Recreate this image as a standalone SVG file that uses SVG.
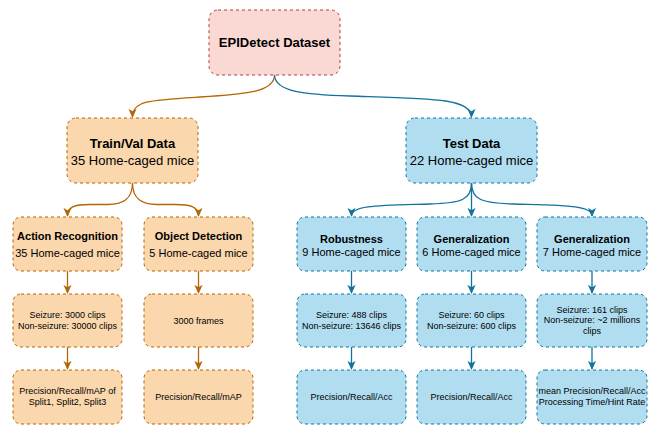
<svg xmlns="http://www.w3.org/2000/svg" width="662" height="427" viewBox="0 0 662 427">
  <style>
    text { font-family: "Liberation Sans", Arial, Helvetica, sans-serif; fill: #000; text-anchor: middle; }
    .box { stroke-width: 1; stroke-dasharray: 3 3; }
    .root { fill: #fad9d5; stroke: #ae4132; }
    .org { fill: #fad7ac; stroke: #b46504; }
    .blu { fill: #b1ddf0; stroke: #10739e; }
    .t13b { font-size: 13px; font-weight: bold; }
    .t13 { font-size: 13px; }
    .t11b { font-size: 11px; font-weight: bold; }
    .t11 { font-size: 11px; }
    .t9 { font-size: 9px; }
    .eo { fill: none; stroke: #b46504; stroke-width: 1.3; marker-end: url(#arrO); }
    .eb { fill: none; stroke: #10739e; stroke-width: 1.3; marker-end: url(#arrB); }
  </style>
  <defs>
    <marker id="arrO" viewBox="0 0 10 10" refX="9" refY="5" markerWidth="9" markerHeight="9" markerUnits="userSpaceOnUse" orient="auto">
      <path d="M0,0.5 L10,5 L0,9.5 L2.5,5 Z" fill="#b46504"/>
    </marker>
    <marker id="arrB" viewBox="0 0 10 10" refX="9" refY="5" markerWidth="9" markerHeight="9" markerUnits="userSpaceOnUse" orient="auto">
      <path d="M0,0.5 L10,5 L0,9.5 L2.5,5 Z" fill="#10739e"/>
    </marker>
  </defs>

  <!-- connectors -->
  <g id="connectors">
    <path class="eo" d="M274.5,75 C274.5,92 245,94.5 200,97 C150,100 132.5,100.5 132.5,117"/>
    <path class="eb" d="M274.5,75 C275,92 305,94.5 350,96 C430,98.5 471.5,98 471.5,117"/>

    <path class="eo" d="M132.5,183 C132.5,200 122,204.5 108,204.5 L90,204.5 C74,204.5 67.5,207 67.5,216"/>
    <path class="eo" d="M132.5,183 C132.5,200 143,204.5 157,204.5 L175,204.5 C191,204.5 198.5,207 198.5,216"/>

    <path class="eb" d="M471.5,183 C471.5,200 461,203 430,204 C380,205.5 351.5,205 351.5,216"/>
    <path class="eb" d="M471.5,183 L471.5,216"/>
    <path class="eb" d="M471.5,183 C471.5,200 482,203 513,204 C563,205.5 592,205 592,216"/>

    <path class="eo" d="M67.5,271 L67.5,293"/>
    <path class="eo" d="M198.5,271 L198.5,293"/>
    <path class="eb" d="M351.5,271 L351.5,293"/>
    <path class="eb" d="M471.5,271 L471.5,293"/>
    <path class="eb" d="M592,271 L592,293"/>

    <path class="eo" d="M67.5,347 L67.5,369"/>
    <path class="eo" d="M198.5,347 L198.5,369"/>
    <path class="eb" d="M351.5,347 L351.5,369"/>
    <path class="eb" d="M471.5,347 L471.5,369"/>
    <path class="eb" d="M592,347 L592,369"/>
  </g>

  <!-- root -->
  <g id="dataset">
    <rect class="box root" x="209" y="10" width="131" height="65" rx="9"/>
    <text class="t13b" x="274.5" y="47">EPIDetect Dataset</text>
  </g>

  <!-- second level -->
  <g id="trainval">
    <rect class="box org" x="67" y="118" width="131" height="65" rx="9"/>
    <text class="t13b" x="132.5" y="147.5">Train/Val Data</text>
    <text class="t13" x="132.5" y="164.5">35 Home-caged mice</text>
  </g>
  <g id="test">
    <rect class="box blu" x="406" y="118" width="131" height="65" rx="9"/>
    <text class="t13b" x="471.5" y="147.5">Test Data</text>
    <text class="t13" x="471.5" y="164.5">22 Home-caged mice</text>
  </g>

  <!-- third level -->
  <g id="action">
    <rect class="box org" x="13" y="217" width="109" height="54" rx="8"/>
    <text class="t11b" x="67.5" y="240">Action Recognition</text>
    <text class="t11" x="67.5" y="257">35 Home-caged mice</text>
  </g>
  <g id="object">
    <rect class="box org" x="144" y="217" width="109" height="54" rx="8"/>
    <text class="t11b" x="198.5" y="240">Object Detection</text>
    <text class="t11" x="198.5" y="257">5 Home-caged mice</text>
  </g>
  <g id="robust">
    <rect class="box blu" x="297" y="217" width="109" height="54" rx="8"/>
    <text class="t11b" x="351.5" y="243">Robustness</text>
    <text class="t11" x="351.5" y="256">9 Home-caged mice</text>
  </g>
  <g id="general1">
    <rect class="box blu" x="417" y="217" width="109" height="54" rx="8"/>
    <text class="t11b" x="471.5" y="243">Generalization</text>
    <text class="t11" x="471.5" y="256">6 Home-caged mice</text>
  </g>
  <g id="general2">
    <rect class="box blu" x="537" y="217" width="110" height="54" rx="8"/>
    <text class="t11b" x="592" y="243">Generalization</text>
    <text class="t11" x="592" y="256">7 Home-caged mice</text>
  </g>

  <!-- fourth level -->
  <g id="action-data">
    <rect class="box org" x="13" y="294" width="109" height="53" rx="8"/>
    <text class="t9" x="67.5" y="318">Seizure: 3000 clips</text>
    <text class="t9" x="67.5" y="329">Non-seizure: 30000 clips</text>
  </g>
  <g id="object-data">
    <rect class="box org" x="144" y="294" width="109" height="53" rx="8"/>
    <text class="t9" x="198.5" y="324">3000 frames</text>
  </g>
  <g id="robust-data">
    <rect class="box blu" x="297" y="294" width="109" height="53" rx="8"/>
    <text class="t9" x="351.5" y="318">Seizure: 488 clips</text>
    <text class="t9" x="351.5" y="329">Non-seizure: 13646 clips</text>
  </g>
  <g id="general1-data">
    <rect class="box blu" x="417" y="294" width="109" height="53" rx="8"/>
    <text class="t9" x="471.5" y="318">Seizure: 60 clips</text>
    <text class="t9" x="471.5" y="329">Non-seizure: 600 clips</text>
  </g>
  <g id="general2-data">
    <rect class="box blu" x="537" y="294" width="110" height="53" rx="8"/>
    <text class="t9" x="592" y="312.5">Seizure: 161 clips</text>
    <text class="t9" x="592" y="323">Non-seizure: ~2 millions</text>
    <text class="t9" x="592" y="333.5">clips</text>
  </g>

  <!-- fifth level -->
  <g id="action-metric">
    <rect class="box org" x="13" y="370" width="109" height="54" rx="8"/>
    <text class="t9" x="67.5" y="394">Precision/Recall/mAP of</text>
    <text class="t9" x="67.5" y="405">Split1, Split2, Split3</text>
  </g>
  <g id="object-metric">
    <rect class="box org" x="144" y="370" width="109" height="54" rx="8"/>
    <text class="t9" x="198.5" y="400">Precision/Recall/mAP</text>
  </g>
  <g id="robust-metric">
    <rect class="box blu" x="297" y="370" width="109" height="54" rx="8"/>
    <text class="t9" x="351.5" y="400">Precision/Recall/Acc</text>
  </g>
  <g id="general1-metric">
    <rect class="box blu" x="417" y="370" width="109" height="54" rx="8"/>
    <text class="t9" x="471.5" y="400">Precision/Recall/Acc</text>
  </g>
  <g id="general2-metric">
    <rect class="box blu" x="537" y="370" width="110" height="54" rx="8"/>
    <text class="t9" x="592" y="394">mean Precision/Recall/Acc</text>
    <text class="t9" x="592" y="405">Processing Time/Hint Rate</text>
  </g>
</svg>
